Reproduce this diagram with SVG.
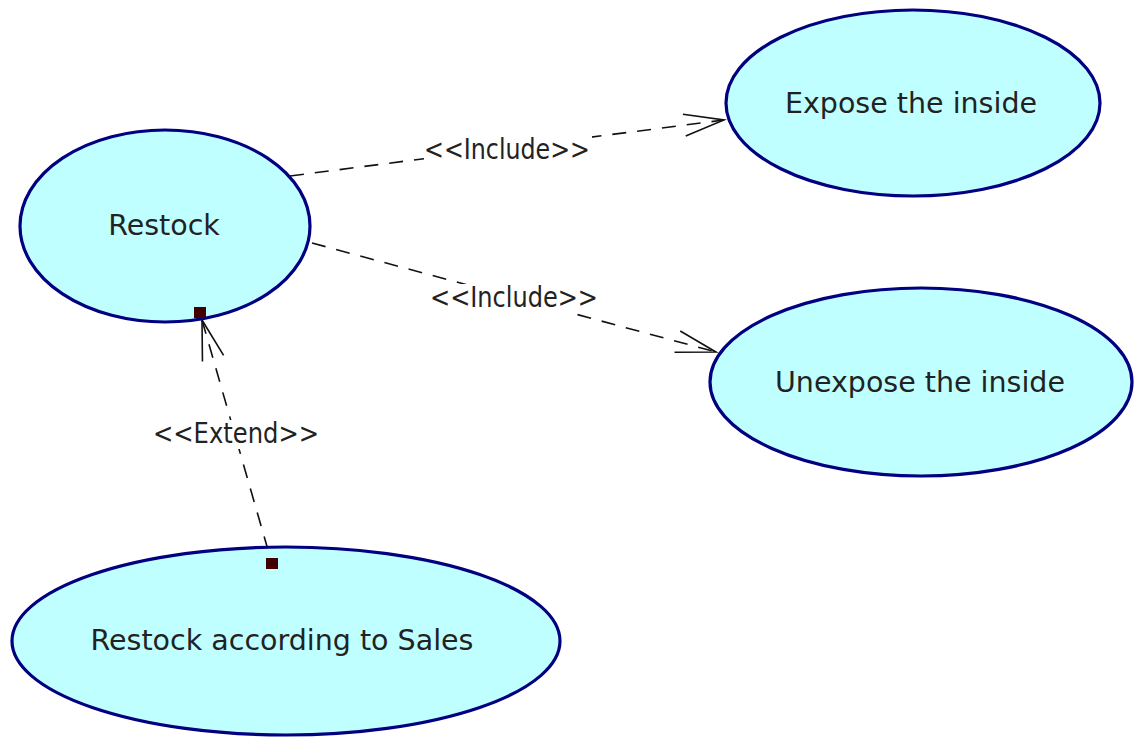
<svg xmlns="http://www.w3.org/2000/svg" width="1134" height="738" viewBox="0 0 1134 738">
  <style>
    .uc { fill: #c0ffff; stroke: #000080; stroke-width: 3.2; }
    .name { font-family: "DejaVu Sans", Verdana, sans-serif; font-size: 28.5px; fill: #222; text-anchor: middle; }
    .dep { fill: none; stroke: #111; stroke-width: 1.6; stroke-dasharray: 14 11; }
    .lbl { font-family: "DejaVu Sans", Verdana, sans-serif; font-size: 28px; fill: #222; text-anchor: middle; }
    .pin { fill: #400000; }
  </style>
  <defs>
    <marker id="open" markerUnits="userSpaceOnUse" markerWidth="50" markerHeight="30" viewBox="-42 -15 46 30" refX="0" refY="0" orient="auto">
      <path d="M -40 -11 L 0 0 L -40 11" fill="none" stroke="#111" stroke-width="1.6"/>
    </marker>
  </defs>
  <rect width="1134" height="738" fill="#ffffff"/>

  <g id="connectors">
    <line class="dep" x1="290" y1="176" x2="724" y2="120" marker-end="url(#open)"/>
    <line class="dep" x1="312" y1="243" x2="716" y2="352" marker-end="url(#open)"/>
    <line class="dep" x1="268" y1="550" x2="202" y2="320" marker-end="url(#open)"/>
    <rect x="424" y="136" width="168" height="28" fill="#ffffff"/>
    <text class="lbl" x="507" y="159" textLength="166" lengthAdjust="spacingAndGlyphs">&lt;&lt;Include&gt;&gt;</text>
    <rect x="429" y="284" width="170" height="29" fill="#ffffff"/>
    <text class="lbl" x="514" y="307" textLength="168" lengthAdjust="spacingAndGlyphs">&lt;&lt;Include&gt;&gt;</text>
    <rect x="151" y="420" width="170" height="29" fill="#ffffff"/>
    <text class="lbl" x="236" y="443" textLength="166" lengthAdjust="spacingAndGlyphs">&lt;&lt;Extend&gt;&gt;</text>
  </g>

  <g id="restock">
    <ellipse class="uc" cx="165" cy="226" rx="145" ry="96"/>
    <text class="name" x="164" y="235">Restock</text>
    <rect class="pin" x="194" y="307" width="12" height="11"/>
  </g>

  <g id="expose">
    <ellipse class="uc" cx="913" cy="103" rx="187" ry="93"/>
    <text class="name" x="911" y="113">Expose the inside</text>
  </g>

  <g id="unexpose">
    <ellipse class="uc" cx="921" cy="382" rx="211" ry="94"/>
    <text class="name" x="920" y="392">Unexpose the inside</text>
  </g>

  <g id="restock-sales">
    <ellipse class="uc" cx="286" cy="641" rx="274" ry="94"/>
    <text class="name" x="282" y="650">Restock according to Sales</text>
    <rect class="pin" x="266" y="558" width="12" height="11"/>
  </g>
</svg>
